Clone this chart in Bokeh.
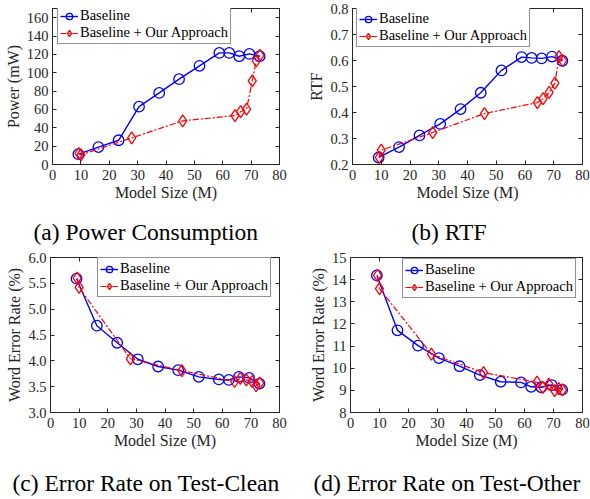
from bokeh.plotting import figure
from bokeh.layouts import column, row
from bokeh.models import (Legend, LegendItem, LinearAxis, Range1d, FixedTicker,
                          NumeralTickFormatter, CustomJSTickFormatter)
from bokeh.embed import file_html
from bokeh.resources import INLINE

# ---------------- data ----------------
model_size_base = [9.1, 16.2, 23.3, 30.5, 37.6, 44.6, 51.8, 58.8, 62.3, 65.8, 69.4, 73.0]
model_size_ours = [9.3, 10.0, 27.9, 45.9, 64.3, 66.3, 68.4, 70.4, 71.8, 73.1]

power_base = [11.3, 19.0, 26.4, 63.0, 78.0, 93.0, 107.5, 121.6, 121.6, 118.0, 120.5, 118.0]
power_ours = [12.0, 10.5, 29.0, 47.6, 53.3, 57.5, 60.4, 91.1, 112.9, 119.0]

rtf_base = [0.227, 0.267, 0.312, 0.356, 0.413, 0.476, 0.562, 0.613, 0.610, 0.608, 0.615, 0.599]
rtf_ours = [0.227, 0.255, 0.323, 0.396, 0.438, 0.453, 0.477, 0.513, 0.615, 0.600]

wer_clean_base = [5.59, 4.68, 4.35, 4.03, 3.89, 3.82, 3.69, 3.64, 3.63, 3.69, 3.67, 3.56]
wer_clean_ours = [5.60, 5.42, 4.04, 3.81, 3.60, 3.66, 3.63, 3.60, 3.52, 3.57]

wer_other_base = [14.19, 11.71, 11.02, 10.46, 10.09, 9.69, 9.39, 9.36, 9.16, 9.14, 9.24, 9.03]
wer_other_ours = [14.19, 13.59, 10.64, 9.80, 9.37, 9.13, 9.28, 8.99, 9.08, 9.02]

x_ticks = [0, 10, 20, 30, 40, 50, 60, 70, 80]
power_ticks = [0, 20, 40, 60, 80, 100, 120, 140, 160]
rtf_ticks = [0.2, 0.3, 0.4, 0.5, 0.6, 0.7, 0.8]
wer_clean_ticks = [3.0, 3.5, 4.0, 4.5, 5.0, 5.5, 6.0]
wer_other_ticks = [8, 9, 10, 11, 12, 13, 14, 15]

series_labels = ["Baseline", "Baseline + Our Approach"]
x_label = "Model Size (M)"
captions = ["(a) Power Consumption", "(b) RTF",
            "(c) Error Rate on Test-Clean", "(d) Error Rate on Test-Other"]

FONT = "serif"
AX = "#262626"


def style_axis(ax, ticks, fmt=None, show_labels=True):
    ax.ticker = FixedTicker(ticks=ticks)
    ax.minor_tick_line_color = None
    ax.major_tick_in = 4
    ax.major_tick_out = 0
    ax.major_tick_line_color = AX
    ax.axis_line_color = AX
    ax.axis_line_width = 1
    ax.major_label_text_font = FONT
    ax.major_label_text_color = AX
    ax.axis_label_text_font = FONT
    ax.axis_label_text_font_style = "normal"
    ax.axis_label_text_color = AX
    ax.axis_label_text_font_size = "16px"
    if fmt:
        ax.formatter = NumeralTickFormatter(format=fmt)
    if show_labels:
        ax.major_label_text_font_size = "14.5px"
    else:
        ax.formatter = CustomJSTickFormatter(code="return ''")
        ax.major_label_text_font_size = "1px"
        ax.major_label_standoff = 0


def panel(yb, yo, yr, yt, yfmt, ylabel, caption, w, h, bl, br, bt, bb,
          leg_left, leg_top, cap_offset, gap):
    p = figure(width=w, height=h, x_range=Range1d(0, 80), y_range=Range1d(*yr),
               output_backend="svg", toolbar_location=None,
               title=caption, title_location="below",
               min_border_left=bl, min_border_right=br,
               min_border_top=bt, min_border_bottom=bb)
    p.xgrid.visible = False
    p.ygrid.visible = False
    p.outline_line_color = AX
    p.background_fill_color = "white"
    p.border_fill_color = "white"

    p.title.text_font = FONT
    p.title.text_font_size = "23.5px"
    p.title.text_font_style = "normal"
    p.title.text_color = "black"
    p.title.align = "left"
    p.title.offset = cap_offset
    p.title.standoff = 7

    style_axis(p.xaxis[0], x_ticks)
    p.xaxis.axis_label = x_label
    p.xaxis.major_label_standoff = 5
    p.xaxis.axis_label_standoff = 1
    style_axis(p.yaxis[0], yt, yfmt)
    p.yaxis.axis_label = ylabel
    p.yaxis.major_label_standoff = 4
    p.yaxis.axis_label_standoff = 2

    # invisible spacer between the x-axis label and the caption
    spacer = LinearAxis(ticker=FixedTicker(ticks=[]), axis_label=" ",
                        axis_label_text_font_size=gap, axis_label_standoff=0,
                        major_label_standoff=0, axis_line_color=None,
                        major_tick_line_color=None, minor_tick_line_color=None,
                        major_tick_in=0, major_tick_out=0)
    p.add_layout(spacer, "below")

    top = LinearAxis()
    style_axis(top, x_ticks, show_labels=False)
    p.add_layout(top, "above")
    right = LinearAxis()
    style_axis(right, yt, show_labels=False)
    p.add_layout(right, "right")

    lb = p.line(model_size_base, yb, line_color="blue", line_width=1.4)
    sb = p.scatter(model_size_base, yb, marker="circle", size=10.5, line_color="blue",
                   line_width=1.3, fill_alpha=0)
    lo = p.line(model_size_ours, yo, line_color="red", line_width=1.2, line_dash="6 2 2 2")
    so = p.scatter(model_size_ours, yo, marker="diamond", size=12, line_color="red",
                   line_width=1.3, fill_alpha=0)

    frame_h = h - bt - bb
    leg_h = 38
    legend = Legend(items=[LegendItem(label=series_labels[0], renderers=[lb, sb]),
                           LegendItem(label=series_labels[1], renderers=[lo, so])],
                    location=(leg_left, frame_h - leg_top - leg_h),
                    label_text_font=FONT, label_text_font_size="14.5px",
                    label_text_color="black", padding=2, spacing=0, margin=0,
                    glyph_width=18, glyph_height=16, label_height=16,
                    label_standoff=2, border_line_color=AX, border_line_width=1,
                    background_fill_color="white", background_fill_alpha=1)
    p.add_layout(legend)
    return p


pa = panel(power_base, power_ours, (0, 170), power_ticks, None, "Power (mW)",
           captions[0], 295, 249, 52, 16, 3, 85, 5, 3, -19, "7px")
pb = panel(rtf_base, rtf_ours, (0.2, 0.8), rtf_ticks, "0.0", "RTF",
           captions[1], 295, 249, 57, 8, 8, 85, 4, 1, 59, "7px")
pc = panel(wer_clean_base, wer_clean_ours, (3.0, 6.0), wer_clean_ticks, "0.0",
           "Word Error Rate (%)", captions[2], 295, 250, 50, 16, 8, 86, 47, 3, -38, "9px")
pd = panel(wer_other_base, wer_other_ours, (8, 15), wer_other_ticks, None,
           "Word Error Rate (%)", captions[3], 295, 250, 55, 8, 8, 86, 52, 4, -37, "9px")

layout = column(row(pa, pb), row(pc, pd))
open("out.html", "w").write(file_html(layout, INLINE))
